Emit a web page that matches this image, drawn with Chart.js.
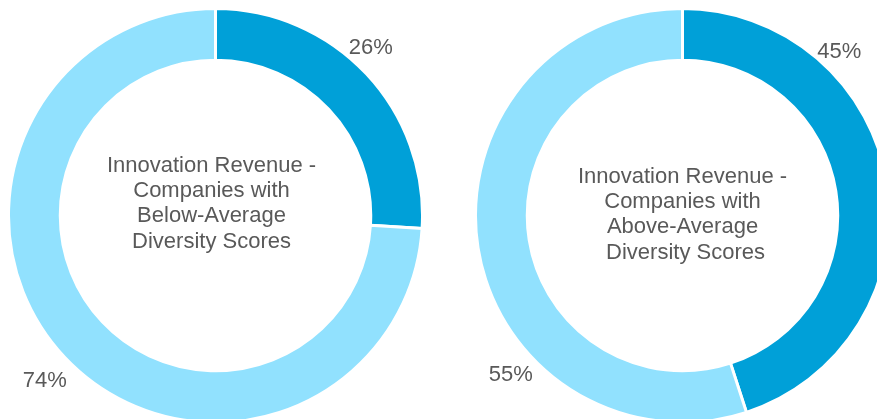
<!DOCTYPE html>
<html>
<head>
<meta charset="utf-8">
<script src="https://cdn.jsdelivr.net/npm/chart.js@4/dist/chart.umd.min.js"></script>
<style>
  html, body { margin: 0; padding: 0; background: #fff; }
  body { width: 877px; height: 419px; overflow: hidden; position: relative; }
  .ring { position: absolute; top: 6.5px; width: 417px; height: 417px; }
  #leftBox { left: 6.5px; }
  #rightBox { left: 473.5px; }
</style>
</head>
<body>
<div class="ring" id="leftBox"><canvas id="leftChart"></canvas></div>
<div class="ring" id="rightBox"><canvas id="rightChart"></canvas></div>
<script>
// --- Data ---
const sliceLabels = ["Innovation revenue", "Other revenue"];
const belowAvgValues = [26, 74];
const aboveAvgValues = [45, 55];
const sliceColors = ["#00A0D8", "#91E1FE"];
const belowAvgTitle = ["Innovation Revenue -", "Companies with", "Below-Average", "Diversity Scores"];
const aboveAvgTitle = ["Innovation Revenue -", "Companies with", "Above-Average", " Diversity Scores"];

const textColor = "#595959";
const fontFamily = "'Liberation Sans', Arial, sans-serif";

// --- Plugin: centre title + percent labels ---
const ringText = {
  id: "ringText",
  afterDatasetsDraw(chart, args, opts) {
    const ctx = chart.ctx;
    const meta = chart.getDatasetMeta(0);
    const arc = meta.data[0];
    const cx = arc.x, cy = arc.y, r = arc.outerRadius;
    ctx.save();
    ctx.fillStyle = textColor;
    ctx.font = "22px " + fontFamily;
    ctx.textAlign = "center";
    ctx.textBaseline = "alphabetic";
    opts.title.forEach((line, i) => {
      ctx.fillText(line, cx + opts.titleDx, cy + opts.titleDy + i * 25.4);
    });
    // percent labels, placed off the ring like the original
    ctx.textBaseline = "middle";
    const values = chart.data.datasets[0].data;
    values.forEach((v, i) => {
      const p = opts.labelPos[i];
      ctx.fillText(v + "%", cx + p[0] * r, cy + p[1] * r);
    });
    ctx.restore();
  }
};

function makeRing(canvasId, values, title, titleDx, titleDy, labelPos) {
  return new Chart(document.getElementById(canvasId).getContext("2d"), {
    type: "doughnut",
    data: {
      labels: sliceLabels,
      datasets: [{
        data: values,
        backgroundColor: sliceColors,
        borderColor: "#ffffff",
        borderWidth: 3,
        hoverOffset: 0,
        offset: 0
      }]
    },
    options: {
      responsive: true,
      maintainAspectRatio: false,
      animation: false,
      cutout: "75%",
      layout: { padding: 0 },
      plugins: {
        legend: { display: false },
        tooltip: { enabled: false },
        ringText: { title: title, titleDx: titleDx, titleDy: titleDy, labelPos: labelPos }
      }
    },
    plugins: [ringText]
  });
}

makeRing("leftChart", belowAvgValues, belowAvgTitle, -4, -44, [[0.75, -0.81], [-0.825, 0.80]]);
makeRing("rightChart", aboveAvgValues, aboveAvgTitle, 0, -33, [[0.757, -0.79], [-0.83, 0.77]]);
</script>
</body>
</html>
